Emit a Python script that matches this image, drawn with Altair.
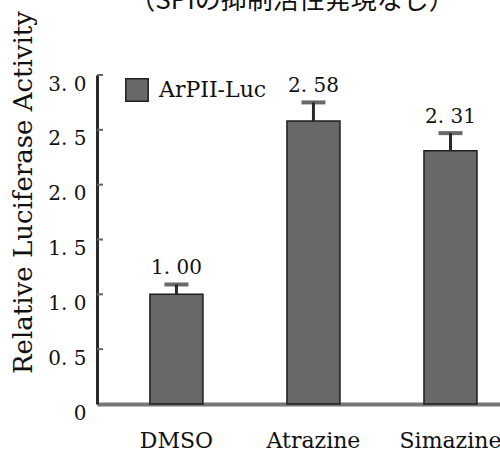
import altair as alt
import pandas as pd

# Luciferase reporter activity (relative to DMSO control)
treatments = ["DMSO", "Atrazine", "Simazine"]
activity = [1.00, 2.58, 2.31]
errors = [0.09, 0.17, 0.16]
series_name = "ArPII-Luc"
y_ticks = [0.5, 1.0, 1.5, 2.0, 2.5, 3.0]
header_text = "（SPIの抑制活性発現なし）"

SERIF = "DejaVu Serif"
BAR_FILL = "#686868"

df = pd.DataFrame({
    "treatment": treatments,
    "activity": activity,
    "err": errors,
    "series": [series_name] * len(treatments),
})
df["upper"] = df["activity"] + df["err"]

x_enc = alt.X(
    "treatment:N",
    sort=treatments,
    scale=alt.Scale(paddingInner=0.613, paddingOuter=0.277, align=0.697),
    axis=alt.Axis(
        title=None,
        ticks=False,
        labelAngle=0,
        labelFont=SERIF,
        labelFontSize=22,
        labelColor="#111",
        labelPadding=26,
        domainColor="#777",
        domainWidth=4,
    ),
)

y_scale = alt.Scale(domain=[0, 3])

base = alt.Chart(df)

bars = base.mark_bar(stroke="#1e1e1e", strokeWidth=1.5).encode(
    x=x_enc,
    y=alt.Y(
        "activity:Q",
        scale=y_scale,
        axis=alt.Axis(
            title="Relative Luciferase Activity",
            titleFont=SERIF,
            titleFontSize=26,
            titleFontWeight="normal",
            titleColor="#111",
            titleAngle=-90,
            titleAlign="center",
            titleBaseline="middle",
            titleX=-74,
            titleY=117,
            values=[0] + y_ticks,
            labelExpr="datum.value == 0 ? '0' : replace(format(datum.value, '.1f'), '.', '. ')",
            labelFont=SERIF,
            labelFontSize=20,
            labelColor="#111",
            labelPadding=11,
            labelOffset=9,
            ticks=False,
            grid=False,
            domainColor="#2a2a2a",
            domainWidth=3,
        ),
    ),
    color=alt.Color(
        "series:N",
        scale=alt.Scale(range=[BAR_FILL]),
        legend=alt.Legend(
            title=None,
            orient="none",
            legendX=28,
            legendY=3,
            symbolType="square",
            symbolSize=500,
            symbolStrokeColor="#1e1e1e",
            symbolStrokeWidth=1.5,
            symbolFillColor=BAR_FILL,
            labelFont=SERIF,
            labelFontSize=22,
            labelColor="#111",
            labelOffset=10,
            padding=0,
        ),
    ),
)

stems = base.mark_rule(color="#2a2a2a", strokeWidth=3).encode(
    x=alt.X("treatment:N", sort=treatments),
    y="activity:Q",
    y2="upper:Q",
)

caps = base.mark_tick(color="#2a2a2a", size=24, thickness=4).encode(
    x=alt.X("treatment:N", sort=treatments),
    y=alt.Y("upper:Q", scale=y_scale),
)

value_labels = base.mark_text(
    font=SERIF, fontSize=20, color="#111", baseline="bottom", dy=-6
).transform_calculate(
    label="replace(format(datum.activity, '.2f'), '.', '. ')"
).encode(
    x=alt.X("treatment:N", sort=treatments),
    y=alt.Y("upper:Q", scale=y_scale),
    text="label:N",
)

# inward-facing ticks on the y axis
tick_df = pd.DataFrame({"v": y_ticks})
inner_ticks = alt.Chart(tick_df).mark_rule(color="#666", strokeWidth=2).encode(
    y=alt.Y("v:Q", scale=y_scale),
    x=alt.value(0),
    x2=alt.value(6),
)

# heading above the plot (runs off the top edge)
header = alt.Chart(pd.DataFrame({"t": [header_text]})).mark_text(
    font="Noto Sans CJK JP", fontSize=26, color="#111", baseline="alphabetic", align="center"
).encode(
    x=alt.value(195),
    y=alt.value(-66),
    text="t:N",
)

chart = alt.layer(bars, stems, caps, value_labels, inner_ticks, header).properties(
    width=403,
    height=329,
    padding={"left": 97, "top": 75, "right": 0, "bottom": 49},
    autosize=alt.AutoSizeParams(type="none"),
    background="white",
).configure_view(stroke=None)

chart.save("out.html", embed_options={"renderer": "svg", "actions": False})
